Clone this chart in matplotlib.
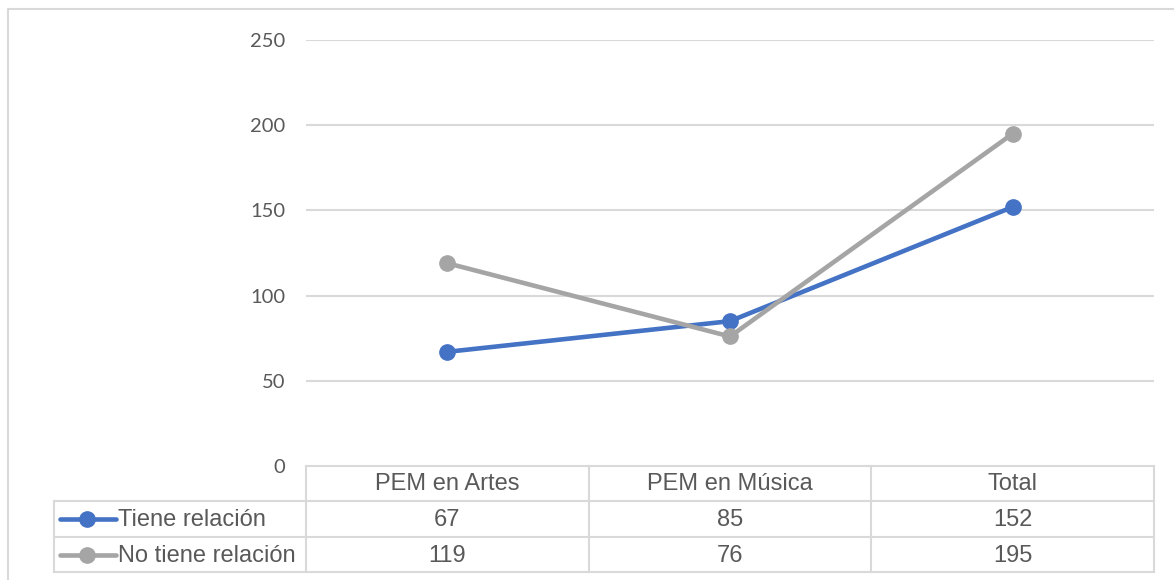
import matplotlib
matplotlib.use("Agg")
import matplotlib.pyplot as plt

# data
categories = ["PEM en Artes", "PEM en Música", "Total"]
series_names = ["Tiene relación", "No tiene relación"]
tiene = [67, 85, 152]
no_tiene = [119, 76, 195]
y_ticks = [0, 50, 100, 150, 200, 250]

colors = ["#4472C4", "#A5A5A5"]
grid_col = "#D9D9D9"
txt_col = "#595959"

W, H = 1174, 580
fig = plt.figure(figsize=(W / 100, H / 100), dpi=100)

# background axes in pixel coords, for frame and data table
bg = fig.add_axes([0, 0, 1, 1])
bg.set_xlim(0, W)
bg.set_ylim(H, 0)
bg.axis("off")

# outer chart frame
bg.plot([8, 8, W], [H, 9, 9], color=grid_col, lw=1.5)

# plot area
left, right, top, bottom = 306, 1154, 40, 466
ax = fig.add_axes([left / W, (H - bottom) / H, (right - left) / W, (bottom - top) / H])
ax.set_xlim(-0.5, len(categories) - 0.5)
ax.set_ylim(0, 250)
for s in ax.spines.values():
    s.set_visible(False)
ax.set_xticks([])
ax.set_yticks(y_ticks)
ax.set_yticklabels([str(v) for v in y_ticks], family="Lato", fontsize=14.5, color=txt_col)
ax.tick_params(axis="y", length=0, pad=15)
for v in y_ticks[1:]:
    ax.axhline(v, color=grid_col, lw=1.5, zorder=0)
ax.patch.set_alpha(0)

xs = range(len(categories))
for vals, c in zip([tiene, no_tiene], colors):
    ax.plot(xs, vals, color=c, lw=3.3, marker="o", markersize=11, zorder=3)

# data table
col_w = (right - left) / len(categories)
row_edges = [466, 501, 537, 572]
tleft = 54
tfont = dict(family="Liberation Sans", fontsize=17, color=txt_col, va="center")

# horizontal lines
bg.plot([left, right], [row_edges[0]] * 2, color=grid_col, lw=1.5)
for y in row_edges[1:]:
    bg.plot([tleft, right], [y, y], color=grid_col, lw=1.5)
# vertical lines
bg.plot([tleft, tleft], [row_edges[1], row_edges[3]], color=grid_col, lw=1.5)
for i in range(len(categories) + 1):
    x = left + i * col_w
    bg.plot([x, x], [row_edges[0], row_edges[3]], color=grid_col, lw=1.5)

for i, cat in enumerate(categories):
    cx = left + (i + 0.5) * col_w
    bg.text(cx, (row_edges[0] + row_edges[1]) / 2 + 1, cat, ha="center", **tfont)

for r, (name, vals, c) in enumerate(zip(series_names, [tiene, no_tiene], colors)):
    cy = (row_edges[r + 1] + row_edges[r + 2]) / 2 + 1
    bg.plot([60, 116], [cy - 1, cy - 1], color=c, lw=3.3, solid_capstyle="round")
    bg.plot([87], [cy - 1], color=c, marker="o", markersize=11)
    bg.text(118, cy, name, ha="left", **tfont)
    for i, v in enumerate(vals):
        bg.text(left + (i + 0.5) * col_w, cy, str(v), ha="center", **tfont)

fig.savefig("out.png", dpi=100)
